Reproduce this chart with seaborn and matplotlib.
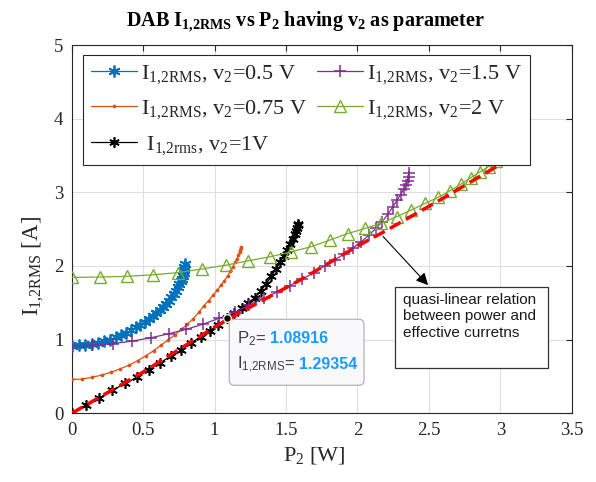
import matplotlib
matplotlib.use("Agg")
import matplotlib.pyplot as plt
import seaborn as sns
import pandas as pd
from matplotlib.patches import FancyBboxPatch, Rectangle

# ---------------- data ----------------
P_v05 = [0, 0.049, 0.096, 0.141, 0.185, 0.228, 0.268, 0.308, 0.346, 0.382,
         0.417, 0.450, 0.481, 0.512, 0.540, 0.567, 0.593, 0.616, 0.639, 0.660,
         0.679, 0.697, 0.713, 0.728, 0.741, 0.752, 0.762, 0.771, 0.778, 0.783,
         0.787, 0.789, 0.790]
I_v05 = [0.920, 0.922, 0.930, 0.943, 0.958, 0.977, 1.000, 1.030, 1.060, 1.095,
         1.130, 1.168, 1.205, 1.245, 1.285, 1.325, 1.365, 1.405, 1.445, 1.485,
         1.530, 1.575, 1.620, 1.665, 1.710, 1.750, 1.790, 1.830, 1.870, 1.910,
         1.950, 1.990, 2.030]

P_v075 = [0, 0.073, 0.1435, 0.212, 0.278, 0.341, 0.403, 0.462, 0.518, 0.573,
          0.625, 0.675, 0.722, 0.767, 0.810, 0.851, 0.889, 0.925, 0.958, 0.989,
          1.018, 1.045, 1.069, 1.091, 1.111, 1.128, 1.143, 1.156, 1.1665, 1.175,
          1.180, 1.184, 1.185]
I_v075 = [0.46, 0.465, 0.49, 0.52, 0.56, 0.605, 0.655, 0.715, 0.78, 0.85,
          0.925, 0.995, 1.065, 1.14, 1.21, 1.285, 1.37, 1.46, 1.53, 1.60,
          1.67, 1.74, 1.80, 1.865, 1.93, 1.99, 2.05, 2.10, 2.15, 2.19,
          2.22, 2.245, 2.26]

P_v1 = [0, 0.0975, 0.192, 0.283, 0.3715, 0.457, 0.539, 0.6175, 0.693, 0.766,
        0.836, 0.902, 0.966, 1.026, 1.089, 1.138, 1.189, 1.237, 1.282, 1.3235,
        1.362, 1.398, 1.430, 1.460, 1.486, 1.509, 1.529, 1.546, 1.560, 1.571,
        1.579, 1.583, 1.585]
I_v1 = [0, 0.11, 0.205, 0.31, 0.405, 0.49, 0.59, 0.685, 0.775, 0.855,
        0.955, 1.04, 1.12, 1.205, 1.294, 1.36, 1.43, 1.50, 1.57, 1.66,
        1.76, 1.86, 1.96, 2.05, 2.14, 2.22, 2.30, 2.37, 2.43, 2.48,
        2.52, 2.55, 2.57]

P_v15 = [0, 0.145, 0.286, 0.422, 0.553, 0.680, 0.802, 0.919, 1.0325, 1.141,
         1.244, 1.3435, 1.438, 1.528, 1.613, 1.694, 1.770, 1.8415, 1.908, 1.971,
         2.028, 2.081, 2.129, 2.173, 2.2125, 2.247, 2.277, 2.302, 2.323, 2.339,
         2.351, 2.358, 2.36]
I_v15 = [0.915, 0.922, 0.945, 0.98, 1.025, 1.08, 1.14, 1.21, 1.29, 1.37,
         1.47, 1.56, 1.645, 1.735, 1.82, 1.91, 2.00, 2.08, 2.165, 2.25,
         2.33, 2.42, 2.51, 2.60, 2.70, 2.80, 2.89, 2.97, 3.04, 3.10,
         3.16, 3.21, 3.26]

P_v2 = [0, 0.195, 0.384, 0.5665, 0.743, 0.913, 1.077, 1.235, 1.387, 1.532,
        1.672, 1.805, 1.932, 2.053, 2.167, 2.275, 2.3775, 2.474, 2.563, 2.647,
        2.724, 2.795, 2.860, 2.919, 2.972, 3.015, 3.050, 3.080, 3.105, 3.120,
        3.130, 3.136, 3.138]
I_v2 = [1.845, 1.85, 1.86, 1.88, 1.91, 1.96, 2.01, 2.07, 2.125, 2.19,
        2.26, 2.35, 2.44, 2.51, 2.58, 2.67, 2.76, 2.85, 2.93, 3.02,
        3.11, 3.20, 3.28, 3.35, 3.43, 3.50, 3.58, 3.66, 3.74, 3.82,
        3.90, 3.97, 4.04]

P_lin = [0, 0.5, 1.0, 1.2, 1.4, 1.6, 1.8, 2.0, 2.2, 2.4, 2.6, 2.8, 3.0]
I_lin = [0, 0.56, 1.17, 1.39, 1.60, 1.81, 2.04, 2.27, 2.48, 2.70, 2.92, 3.15, 3.38]

TIP_P = 1.08916
TIP_I = 1.29354

labels = [r"$\mathregular{I_{1{,}2RMS}}$, $\mathregular{v_2}$=0.5 V",
          r"$\mathregular{I_{1{,}2RMS}}$, $\mathregular{v_2}$=0.75 V",
          r" $\mathregular{I_{1{,}2rms}}$, $\mathregular{v_2}$=1V",
          r"$\mathregular{I_{1{,}2RMS}}$, $\mathregular{v_2}$=1.5 V",
          r"$\mathregular{I_{1{,}2RMS}}$, $\mathregular{v_2}$=2 V"]
xticks = [0, 0.5, 1, 1.5, 2, 2.5, 3, 3.5]
xticklabels = ["0", "0.5", "1", "1.5", "2", "2.5", "3", "3.5"]
yticks = [0, 1, 2, 3, 4, 5]

# ---------------- style ----------------
sns.set_style("white")
plt.rcParams["font.family"] = ["Liberation Serif", "DejaVu Serif"]

fig = plt.figure(figsize=(5.96, 4.82), dpi=100)
ax = fig.add_axes([0.1203, 0.1425, 0.8389, 0.7641])

C_BLUE = "#0072BD"
C_ORANGE = "#D95319"
C_PURPLE = "#7E2F8E"
C_GREEN = "#77AC30"

AST = (6, 2, 0)
series = [
    (P_v05, I_v05, dict(color=C_BLUE, marker=AST, markersize=8.5, markeredgewidth=1.3,
                        markeredgecolor=C_BLUE)),
    (P_v075, I_v075, dict(color=C_ORANGE, marker="o", markersize=2.2, markeredgewidth=0.5,
                          markeredgecolor=C_ORANGE)),
    (P_v1, I_v1, dict(color="black", marker=AST, markersize=7.5, markeredgewidth=1.2,
                      markeredgecolor="black")),
    (P_v15, I_v15, dict(color=C_PURPLE, marker="+", markersize=8, markeredgewidth=1.1,
                        markeredgecolor=C_PURPLE)),
    (P_v2, I_v2, dict(color=C_GREEN, marker="^", markersize=9, markeredgewidth=1.0,
                      markeredgecolor=C_GREEN, markerfacecolor="none")),
]
handles = []
for (px, iy, kw), lab in zip(series, labels):
    df = pd.DataFrame({"P": px, "I": iy})
    sns.lineplot(data=df, x="P", y="I", ax=ax, sort=False, estimator=None,
                 linewidth=0.9, label=lab, zorder=3, **kw)
    handles.append(ax.get_lines()[-1])

df_lin = pd.DataFrame({"P": P_lin, "I": I_lin})
sns.lineplot(data=df_lin, x="P", y="I", ax=ax, sort=False, estimator=None,
             color="red", linewidth=2.5, dashes=(3.6, 1.7), zorder=4)

# ---------------- axes ----------------
ax.set_xlim(0, 3.5)
ax.set_ylim(0, 5)
ax.set_xticks(xticks)
ax.set_xticklabels(xticklabels)
ax.set_yticks(yticks)
ax.grid(True, color="#dfdfdf", linewidth=0.8)
ax.set_axisbelow(True)
for s in ax.spines.values():
    s.set_color("#262626")
    s.set_linewidth(0.8)
ax.tick_params(direction="in", length=4, width=0.8, colors="#262626",
               top=True, right=True, labelsize=13.5, pad=6)
for t in ax.get_xticklabels() + ax.get_yticklabels():
    t.set_color("#262626")

ax.set_xlabel(r"$\mathregular{P_2}$ [W]", fontsize=16, color="#262626")
ax.xaxis.set_label_coords(0.486, -0.085)
ax.set_ylabel(r"$\mathregular{I_{1{,}2RMS}}$ [A]", fontsize=16.5, color="#262626")
ax.yaxis.set_label_coords(-0.052, 0.40)

fig.text(0.512, 0.945,
         r"DAB $\mathregular{I_{1{,}2RMS}}$ vs $\mathregular{P_2}$ having $\mathregular{v_2}$ as parameter",
         fontsize=14.5, fontweight="bold", ha="center", va="baseline", color="black")

leg = ax.legend(handles=handles, labels=labels, ncol=2, loc="upper left",
                bbox_to_anchor=(0.023, 0.973), borderaxespad=0, fontsize=16,
                frameon=True, fancybox=False, framealpha=1.0,
                handlelength=2.05, handletextpad=0.2,
                columnspacing=0.45, labelspacing=0.57, borderpad=0.35)
leg.get_frame().set_edgecolor("#262626")
leg.get_frame().set_facecolor("white")
leg.get_frame().set_linewidth(0.8)
leg.set_zorder(20)

# ---------------- annotation (quasi-linear) ----------------
ax.add_patch(Rectangle((2.262, 0.61), 1.073, 1.10, facecolor="white",
                       edgecolor="#333333", linewidth=0.9, zorder=15))
ax.text(2.316, 1.64, "quasi-linear relation\nbetween power and\neffective curretns",
        family=["Liberation Sans", "DejaVu Sans"], fontsize=11, va="top", ha="left",
        linespacing=1.25, color="#1a1a1a", zorder=16)
ax.annotate("", xy=(2.495, 1.74), xytext=(2.18, 2.40),
            arrowprops=dict(arrowstyle="-|>", color="black", lw=0.8,
                            mutation_scale=18, shrinkA=0, shrinkB=0), zorder=16)

# ---------------- data tip ----------------
ax.plot([TIP_P], [TIP_I], "o", color="black", markeredgecolor="#f3eec0",
        markersize=5.5, markeredgewidth=1.0, zorder=18)
tr = fig.dpi_scale_trans
box = FancyBboxPatch((2.293, 0.967), 1.347, 0.66,
                     boxstyle="round,pad=0,rounding_size=0.05",
                     transform=tr, facecolor="#f9f9fc", edgecolor="#b4b4b4",
                     linewidth=0.9, zorder=17)
ax.add_artist(box)
t1 = ax.text(2.367, 1.387, r"$\mathregular{P_2}$=", transform=tr,
             family=["Liberation Sans", "DejaVu Sans"], fontsize=12,
             color="#404040", va="baseline", zorder=19)
ax.annotate("1.08916", xy=(1, 1.387), xycoords=(t1, tr), xytext=(3, 0),
            textcoords="offset points", va="baseline",
            family=["Liberation Sans", "DejaVu Sans"], fontsize=11.5,
            fontweight="bold", color="#1a9cff", zorder=19)
t2 = ax.text(2.367, 1.13, r"$\mathregular{I_{1{,}2RMS}}$=", transform=tr,
             family=["Liberation Sans", "DejaVu Sans"], fontsize=12,
             color="#404040", va="baseline", zorder=19)
ax.annotate("1.29354", xy=(1, 1.13), xycoords=(t2, tr), xytext=(3, 0),
            textcoords="offset points", va="baseline",
            family=["Liberation Sans", "DejaVu Sans"], fontsize=11.5,
            fontweight="bold", color="#1a9cff", zorder=19)

fig.savefig("out.png", dpi=100)
